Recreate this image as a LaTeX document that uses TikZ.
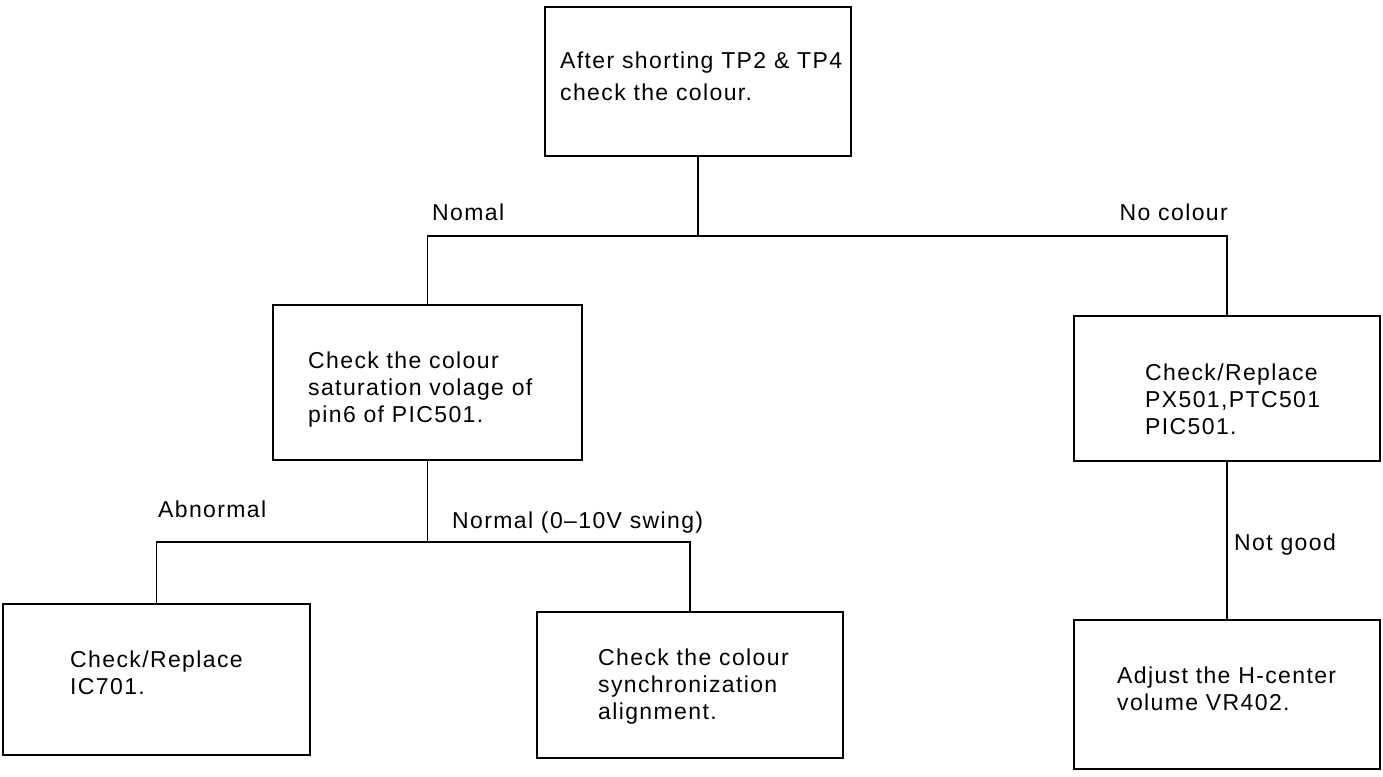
\documentclass[tikz,border=0pt]{standalone}
\usepackage{fontspec}
\setmainfont{Liberation Sans}[LetterSpace=6]
\begin{document}
\begin{tikzpicture}[x=1pt,y=-1pt,
  box/.style={draw=black, line width=1.8pt, rectangle, inner sep=0pt},
  txt/.style={inner sep=0pt, anchor=north west, align=left, font=\fontsize{23}{27}\selectfont},
  lbl/.style={inner sep=0pt, font=\fontsize{23}{27}\selectfont},
  conn/.style={line width=1.8pt, line cap=rect}]
\useasboundingbox (0,0) rectangle (1383,776);
% boxes
\node[box, minimum width=306pt, minimum height=149pt] (top) at (698,81.5) {};
\node[box, minimum width=309pt, minimum height=155pt] (mid) at (427.5,382.5) {};
\node[box, minimum width=306pt, minimum height=145pt] (rgt) at (1227,388.5) {};
\node[box, minimum width=307pt, minimum height=151pt] (lb) at (156.5,679.5) {};
\node[box, minimum width=306pt, minimum height=146pt] (cb) at (690,685) {};
\node[box, minimum width=306pt, minimum height=149pt] (rb) at (1227,694.5) {};
% texts
\node[txt, font=\fontsize{23}{32}\selectfont] (ttop) at (560,52) {After shorting TP2 \& TP4\\check the colour.};
\node[txt] (tmid) at (308,352) {Check the colour\\saturation volage of\\pin6 of PIC501.};
\node[txt] (trgt) at (1145,364) {Check/Replace\\PX501,PTC501\\PIC501.};
\node[txt] (tlb) at (70,651) {Check/Replace\\IC701.};
\node[txt] (tcb) at (598,649) {Check the colour\\synchronization\\alignment.};
\node[txt] (trb) at (1117,667) {Adjust the H-center\\volume VR402.};
% junctions
\coordinate (j1) at (698,236);
\coordinate (j2) at (427.5,542);
% connectors
\draw[conn] (top.south) -- (j1);
\draw[conn] (mid.north) -- (mid.north |- j1) -- (rgt.north |- j1) -- (rgt.north);
\draw[conn] (mid.south) -- (j2);
\draw[conn] (lb.north) -- (lb.north |- j2) -- (cb.north |- j2) -- (cb.north);
\draw[conn] (rgt.south) -- (rb.north);
% labels
\node[lbl, anchor=base west] (lnomal) at (432,220) {Nomal};
\node[lbl, anchor=base east] (lnocol) at (1228,220) {No colour};
\node[lbl, anchor=base west] (labn) at (158,517) {Abnormal};
\node[lbl, anchor=base west] (lnorm) at (452,528) {Normal (0--10V swing)};
\node[lbl, anchor=base west] (lnotg) at (1234,550) {Not good};
\end{tikzpicture}
\end{document}
